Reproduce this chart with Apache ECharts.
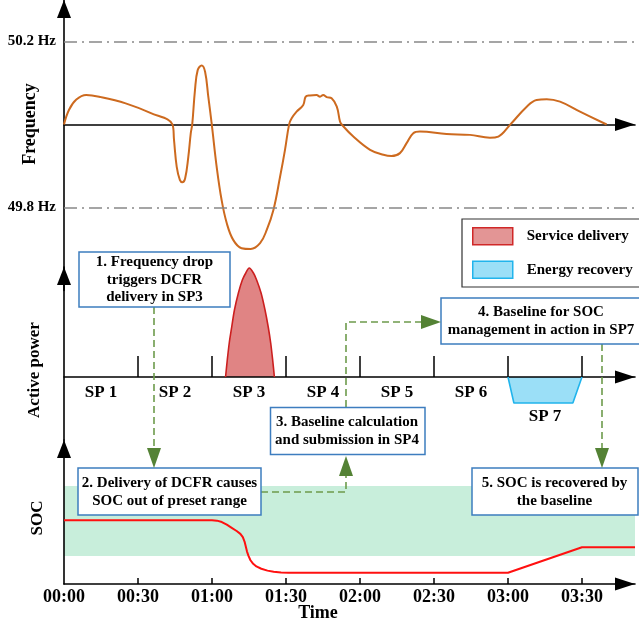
<!DOCTYPE html>
<html><head><meta charset="utf-8">
<script src="https://cdn.jsdelivr.net/npm/echarts@6/dist/echarts.min.js"></script>
<style>html,body{margin:0;padding:0;background:#fff}#c{width:639px;height:630px}</style>
</head><body><div id="c"></div><script>
// ---- data (time in minutes from 00:00) ----
const nominalHz = 50;
const freqTickHz = [49.8, 50.2];
const freqMinutes = [0,2,5,9,15,25,35,44,
  44.6,45.7,47.0,48.0,49.1,50.4,51.4,52.0,53.1,54.2,55.8,57.2,58.5,59.9,61.9,63.9,66.0,68.6,72.0,75.7,79.5,82.2,84.9,87.6,89.6,91.3,
  92.3,94.3,97.0,98.0,99.7,102.4,103.8,105.1,106.5,108.5,110.6,111.9,112.6,
  117.3,124.1,129.5,132.8,136.2,138.9,141.6,144.3,155.1,164.6,172.7,176.1,180.8,187.6,191.6,195.7,201.1,209.2,220.0];
const freqHz = [50.000,50.035,50.060,50.071,50.066,50.051,50.028,50.000,
  49.963,49.898,49.866,49.861,49.870,49.922,49.979,50.001,50.083,50.131,50.142,50.127,50.067,50.001,49.898,49.818,49.762,49.722,49.702,49.700,49.714,49.746,49.794,49.874,49.939,50.001,
  50.015,50.031,50.047,50.067,50.070,50.071,50.067,50.071,50.066,50.063,50.043,50.007,50.000,
  49.971,49.939,49.927,49.924,49.931,49.955,49.979,49.983,49.977,49.975,49.968,49.971,49.999,50.043,50.059,50.061,50.055,50.031,50.000];

const deliveryMinutes = [65.5,66.2,67.0,68.0,69.1,70.7,72.3,73.7,75.1,76.8,78.1,79.9,81.5,82.8,83.8,84.6,85.3];
const deliveryPower   = [0,0.17,0.34,0.50,0.67,0.84,0.97,1.04,1.09,1.04,0.97,0.84,0.67,0.50,0.34,0.17,0];
const recoveryMinutes = [180,182.4,206.3,210];
const recoveryPower   = [0,-0.26,-0.26,0];

const socMinutes = [0,60,62,64,66,68,70,71.5,72.5,73.2,73.7,74.2,74.8,75.6,76.7,78,80,82.5,85,88,91,180,210,231.5];
const socValues  = [44.2,44.2,44.0,43.0,41.2,39.0,36.8,34.8,32.5,29.5,26.0,22.5,19.5,16.5,14.0,12.2,10.6,9.3,8.5,8.0,7.8,7.8,25.5,25.5];
const socRangeLow = 19.4, socRangeHigh = 68.1;

const spBoundaryMinutes = [30,60,90,120,150,180,210];
const spLabelMinutes = [15,45,75,105,135,165,195];
const spLabels = ['SP 1','SP 2','SP 3','SP 4','SP 5','SP 6','SP 7'];
const timeTickMinutes = [0,30,60,90,120,150,180,210];
const timeTickLabels = ['00:00','00:30','01:00','01:30','02:00','02:30','03:00','03:30'];
const xMax = 231.5;

// ---- styles ----
const FF = '"Liberation Serif","Times New Roman",serif';
const font = s => 'bold ' + s + 'px ' + FF;
const axisLine = (sym) => ({show:true, onZero:true, symbol:['none','triangle'], symbolSize: sym, symbolOffset:[0, -sym[1]/2], lineStyle:{color:'#000', width:1.6}});
const xArrow = [13,20], yArrow = [14,18];
const boxStroke = '#3d7dbf', dashCol = '#6d9b4c', headCol = '#548235';

const chart = echarts.init(document.getElementById('c'), null, {renderer:'canvas'});

function box(x, y, w, h, cx, cy, text, lh) {
  return [
    {type:'rect', z:20, shape:{x:x, y:y, width:w, height:h}, style:{fill:'#fff', stroke:boxStroke, lineWidth:1.5}},
    {type:'text', z:21, x:cx, y:cy, style:{text:text, font:font(15), fill:'#000', align:'center', verticalAlign:'middle', lineHeight:lh}}
  ];
}
function dash(points) {
  return {type:'polyline', z:19, shape:{points:points}, style:{stroke:dashCol, lineWidth:1.6, lineDash:[7,4], fill:null}};
}
function head(points) {
  return {type:'polygon', z:22, shape:{points:points}, style:{fill:headCol}};
}

const option = {
  animation:false,
  backgroundColor:'#fff',
  grid:[
    {left:64, right:4, top:0, bottom:339.5},
    {left:64, right:4, top:267, bottom:190},
    {left:64, right:4, top:440, bottom:46}
  ],
  xAxis:[
    {gridIndex:0, type:'value', min:0, max:xMax, z:3, axisLine:axisLine(xArrow), axisTick:{show:false}, axisLabel:{show:false}, splitLine:{show:false}},
    {gridIndex:1, type:'value', min:0, max:xMax, z:3, position:'bottom', offset:-63,
      axisLine:Object.assign(axisLine(xArrow), {onZero:false}),
      axisTick:{show:true, inside:true, length:21, customValues:spBoundaryMinutes, lineStyle:{color:'#000', width:1.5}},
      axisLabel:{show:true, customValues:spLabelMinutes, margin:7, color:'#000', fontFamily:FF, fontWeight:'bold', fontSize:17,
        formatter:(v)=>{ const i = spLabelMinutes.indexOf(v); return i === 6 ? '{low|' + spLabels[i] + '}' : spLabels[i]; },
        rich:{low:{padding:[24,0,0,0], fontFamily:FF, fontWeight:'bold', fontSize:17, color:'#000'}}},
      splitLine:{show:false}},
    {gridIndex:2, type:'value', min:0, max:xMax, z:3, axisLine:axisLine(xArrow),
      axisTick:{show:true, inside:true, length:6, customValues:spBoundaryMinutes, lineStyle:{color:'#000', width:1.5}},
      axisLabel:{show:true, customValues:timeTickMinutes, margin:4, color:'#000', fontFamily:FF, fontWeight:'bold', fontSize:18,
        formatter:(v)=>timeTickLabels[timeTickMinutes.indexOf(v)]},
      splitLine:{show:false}}
  ],
  yAxis:[
    {gridIndex:0, type:'value', min:-0.4, max:0.3, z:3, axisLine:axisLine(yArrow), axisTick:{show:false}, splitLine:{show:false},
      axisLabel:{show:true, customValues:freqTickHz.map(v=>v-nominalHz), margin:8, color:'#000', fontFamily:FF, fontWeight:'bold', fontSize:15,
        formatter:(v)=>(nominalHz+v).toFixed(1)+' Hz'}},
    {gridIndex:1, type:'value', min:-0.63, max:1.1, z:3, axisLine:axisLine(yArrow), axisTick:{show:false}, axisLabel:{show:false}, splitLine:{show:false}},
    {gridIndex:2, type:'value', min:0, max:100, z:3, axisLine:axisLine(yArrow), axisTick:{show:false}, axisLabel:{show:false}, splitLine:{show:false}}
  ],
  legend:{
    left:462, top:219, orient:'vertical', backgroundColor:'#fff', borderColor:'#333', borderWidth:1.2,
    padding:[8,8,8,10], itemWidth:40, itemHeight:17, itemGap:15, icon:'rect', selectedMode:false,
    textStyle:{fontFamily:FF, fontWeight:'bold', fontSize:15, color:'#000', padding:[0,0,0,9]},
    data:[
      {name:'Service delivery', itemStyle:{color:'#e39595', borderColor:'#d02828', borderWidth:1.5}},
      {name:'Energy recovery', itemStyle:{color:'#9bdff7', borderColor:'#21b4ec', borderWidth:1.5}}
    ]
  },
  series:[
    {name:'Frequency', type:'line', xAxisIndex:0, yAxisIndex:0, smooth:0.4, showSymbol:false, silent:true,
      data:freqMinutes.map((t,i)=>[t, freqHz[i]-nominalHz]),
      lineStyle:{color:'#cd6a1f', width:2}, itemStyle:{color:'#cd6a1f'},
      markLine:{silent:true, symbol:'none', label:{show:false},
        lineStyle:{color:'#888', width:1.5, type:[13,5,2,5]},
        data:freqTickHz.map(v=>({yAxis:v-nominalHz}))}},
    {name:'Service delivery', type:'line', xAxisIndex:1, yAxisIndex:1, smooth:0.3, showSymbol:false, silent:true,
      data:deliveryMinutes.map((t,i)=>[t, deliveryPower[i]]),
      lineStyle:{color:'#cc1f1f', width:1.6}, itemStyle:{color:'#e08484'}, areaStyle:{color:'#e08484', opacity:1}},
    {name:'Energy recovery', type:'line', xAxisIndex:1, yAxisIndex:1, smooth:false, showSymbol:false, silent:true,
      data:recoveryMinutes.map((t,i)=>[t, recoveryPower[i]]),
      lineStyle:{color:'#21b4ec', width:1.6}, itemStyle:{color:'#9bdff7'}, areaStyle:{color:'#9bdff7', opacity:1}},
    {name:'SOC', type:'line', xAxisIndex:2, yAxisIndex:2, smooth:false, showSymbol:false, silent:true,
      data:socMinutes.map((t,i)=>[t, socValues[i]]),
      lineStyle:{color:'#ff1010', width:2}, itemStyle:{color:'#ff1010'},
      markArea:{silent:true, itemStyle:{color:'#c8eedb'},
        data:[[{xAxis:0, yAxis:socRangeLow},{xAxis:xMax, yAxis:socRangeHigh}]]}}
  ],
  graphic:[
    {type:'text', z:10, x:30, y:124, rotation:Math.PI/2, style:{text:'Frequency', font:font(18), fill:'#000', align:'center', verticalAlign:'middle'}},
    {type:'text', z:10, x:35, y:370, rotation:Math.PI/2, style:{text:'Active power', font:font(17), fill:'#000', align:'center', verticalAlign:'middle'}},
    {type:'text', z:10, x:38, y:518, rotation:Math.PI/2, style:{text:'SOC', font:font(17), fill:'#000', align:'center', verticalAlign:'middle'}},
    {type:'text', z:10, x:318, y:613, style:{text:'Time', font:font(18), fill:'#000', align:'center', verticalAlign:'middle'}},
    dash([[154,307],[154,450]]), head([[147,448],[161,448],[154,468]]),
    dash([[261,492],[346,492],[346,476]]), head([[339,476],[353,476],[346,456]]),
    dash([[346,407],[346,322],[421,322]]), head([[421,315],[421,329],[441,322]]),
    dash([[602,344],[602,449]]), head([[595,448],[609,448],[602,468]]),
    ...box(79,252,151,55,154.5,280,'1. Frequency drop\ntriggers DCFR\ndelivery in SP3',17.5),
    ...box(78,468,183,47,169.5,492,'2. Delivery of DCFR causes\nSOC out of preset range',18.5),
    ...box(270.5,407.5,154.5,47,347,431,'3. Baseline calculation\nand submission in SP4',18.5),
    ...box(441,298,199,46,541,321,'4. Baseline for SOC\nmanagement in action in SP7',18.5),
    ...box(472,468,166,47,554.5,492,'5. SOC is recovered by\nthe baseline',18.5)
  ]
};
chart.setOption(option);
</script></body></html>
